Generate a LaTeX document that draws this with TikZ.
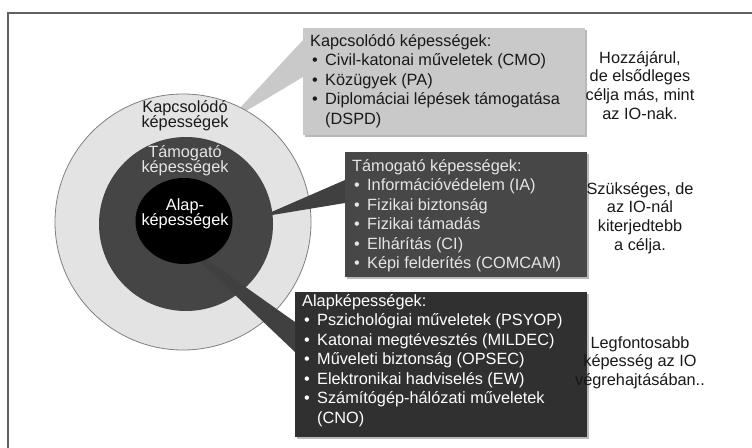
\documentclass[tikz,border=0pt]{standalone}
\usepackage{fontspec}
\setmainfont{Liberation Sans}
\usetikzlibrary{calc,shapes.geometric,shadows}
\definecolor{ringL}{gray}{0.89}
\definecolor{ringD}{gray}{0.27}
\definecolor{ringBorder}{gray}{0.50}
\definecolor{boxL}{gray}{0.79}
\definecolor{boxD}{gray}{0.28}
\definecolor{boxB}{gray}{0.19}
\definecolor{wedgeD}{gray}{0.25}
\definecolor{frameC}{gray}{0.38}
\definecolor{txtD}{gray}{0.10}
\definecolor{txtL}{gray}{0.90}
\newcommand\fsA{\fontsize{16.3}{19.5}\selectfont}
\newcommand\fsB{\fontsize{16.3}{18.7}\selectfont}
\newcommand\fsC{\fontsize{16.3}{15}\selectfont\lineskiplimit=-100pt}
\newcommand\bl{\makebox[15pt][l]{\hspace{2pt}•}}
\newcommand\ind{\hspace*{15pt}}
\begin{document}
\begin{tikzpicture}[x=1pt,y=-1pt,
  boxstyle/.style={anchor=north west, inner sep=0pt, outer sep=0pt,
    drop shadow={shadow xshift=2pt, shadow yshift=-2pt, fill=gray!55, opacity=1}},
  boxtxt/.style={anchor=north west, inner sep=0pt, align=left, font=\fsA},
  sidetxt/.style={anchor=north, inner sep=0pt, align=center, font=\fsB, text=txtD},
  ringtxt/.style={anchor=north, inner sep=0pt, align=center, font=\fsC},
  ring/.style={circle, inner sep=0pt, outer sep=0pt}
]
\useasboundingbox (0,0) rectangle (752,447);
\fill[white] (0,0) rectangle (752,447);
\draw[frameC, line width=1.6pt] (8,450) -- (8,13) -- (755,13);

% boxes
\node[boxstyle, fill=boxL, minimum width=282pt, minimum height=107pt] (kbox) at (303,28) {};
\node[boxstyle, fill=boxD, minimum width=242pt, minimum height=125pt] (tbox) at (345,152) {};
\node[boxstyle, fill=boxB, minimum width=292pt, minimum height=145pt] (abox) at (295,292) {};

% wedge apex points
\coordinate (w1) at (226,123);
\coordinate (w2) at (260,217);
\coordinate (w3) at (172,235);

% wedge 1 + outer ring
\fill[boxL] (w1) -- ($(kbox.north west)+(0,12)$) -- ($(kbox.north west)+(0,49)$) -- cycle;
\node[ring, minimum size=256pt, fill=ringL, draw=ringBorder, line width=0.8pt] (outer) at (183,222) {};
% wedge 2 + middle ring
\fill[wedgeD] (w2) -- ($(tbox.north west)+(0,28)$) -- ($(tbox.north west)+(0,51)$) -- cycle;
\node[ring, minimum size=174pt, fill=ringD] (mid) at (186,224) {};
% wedge 3 + inner core
\fill[wedgeD] (w3) -- ($(abox.north west)+(0,30)$) -- ($(abox.north west)+(0,60)$) -- cycle;
\node[ellipse, inner sep=0pt, minimum width=97pt, minimum height=86pt, fill=black] (core) at (184,221) {};

% ring labels
\node[ringtxt, text=txtD] (lk) at (185,100.5) {\strut Kapcsolódó\\képességek};
\node[ringtxt, text=txtL] (lt) at (185,145.5) {\strut Támogató\\képességek};
\node[ringtxt, text=white] (la) at (185,198.5) {\strut Alap-\\képességek};

% box texts
\node[boxtxt, text=txtD] (kt) at ($(kbox.north west)+(7,4.5)$) {\strut Kapcsolódó képességek:\\
\bl Civil-katonai műveletek (CMO)\\
\bl Közügyek (PA)\\
\bl Diplomáciai lépések támogatása\\
\ind(DSPD)};
\node[boxtxt, text=txtL] (tt) at ($(tbox.north west)+(7,5.3)$) {\strut Támogató képességek:\\
\bl Információvédelem (IA)\\
\bl Fizikai biztonság\\
\bl Fizikai támadás\\
\bl Elhárítás (CI)\\
\bl Képi felderítés (COMCAM)};
\node[boxtxt, text=white] (at) at ($(abox.north west)+(7,0.5)$) {\strut Alapképességek:\\
\bl Pszichológiai műveletek (PSYOP)\\
\bl Katonai megtévesztés (MILDEC)\\
\bl Műveleti biztonság (OPSEC)\\
\bl Elektronikai hadviselés (EW)\\
\bl Számítógép-hálózati műveletek\\
\ind(CNO)};

% side texts
\node[sidetxt] (s1) at (640,50) {\strut Hozzájárul,\\de elsődleges\\célja más, mint\\az IO-nak.};
\node[sidetxt] (s2) at (640,181) {\strut Szükséges, de\\az IO-nál\\kiterjedtebb\\a célja.};
\node[sidetxt] (s3) at (640,335) {\strut Legfontosabb\\képesség az IO\\végrehajtásában..};
\end{tikzpicture}
\end{document}
